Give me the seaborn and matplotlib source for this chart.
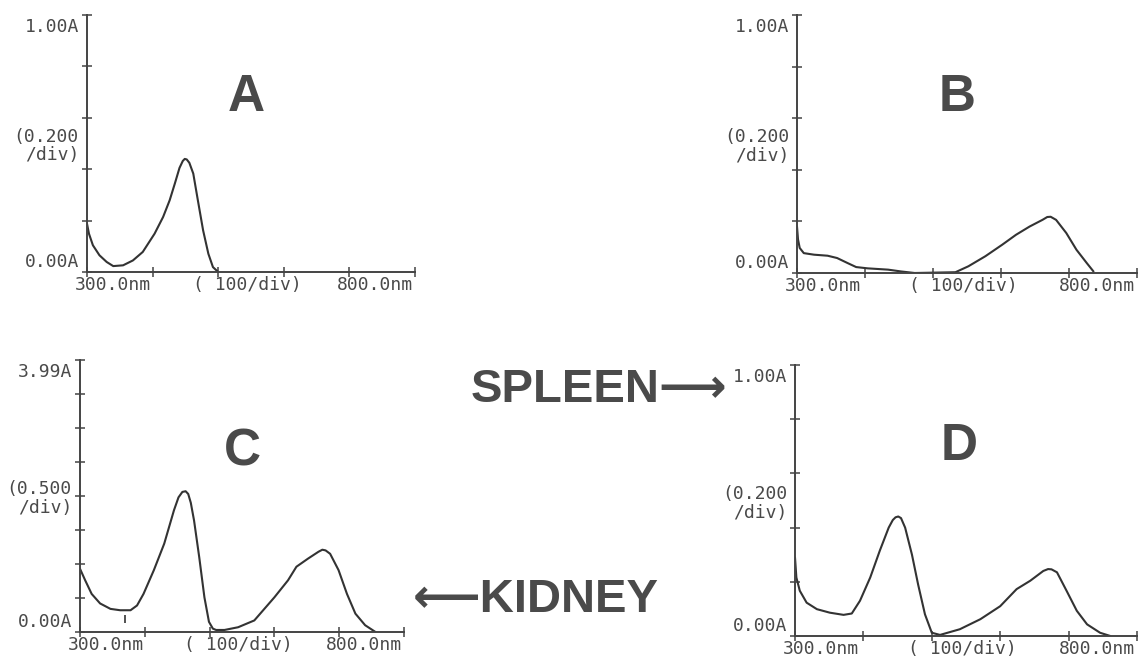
import numpy as np
import matplotlib
matplotlib.use("Agg")
import matplotlib.pyplot as plt
import seaborn as sns

# ---------------- data (wavelength nm, absorbance A) ----------------
a_nm  = [300, 303, 309, 319, 330, 340, 355, 370, 385, 403, 416, 426, 434, 441, 446, 449, 452, 456, 462, 469, 477, 485, 492, 500]
a_abs = [0.188, 0.149, 0.104, 0.065, 0.039, 0.023, 0.026, 0.045, 0.078, 0.149, 0.214, 0.279, 0.345, 0.405, 0.432, 0.44, 0.438, 0.425, 0.383, 0.279, 0.162, 0.071, 0.019, 0.0]

b_nm  = [300, 301.5, 304, 310, 325, 345, 359, 374, 387, 404, 434, 453, 473, 533, 552, 577, 602, 622, 642, 661, 668, 673, 681, 696, 711, 726, 736]
b_abs = [0.18, 0.13, 0.097, 0.077, 0.071, 0.067, 0.058, 0.039, 0.023, 0.018, 0.013, 0.006, 0.0, 0.003, 0.026, 0.065, 0.11, 0.148, 0.18, 0.206, 0.217, 0.218, 0.206, 0.155, 0.09, 0.039, 0.006]

c_nm  = [300, 308, 318, 331, 347, 362, 378, 388, 398, 414, 430, 445, 452, 458, 463, 467, 471, 476, 484, 492, 499, 505, 510, 523, 544, 569, 600, 621, 634, 652, 668, 674, 679, 686, 699, 712, 725, 740, 756]
c_abs = [0.93, 0.76, 0.56, 0.42, 0.34, 0.32, 0.32, 0.39, 0.56, 0.91, 1.30, 1.79, 1.98, 2.06, 2.07, 2.03, 1.90, 1.64, 1.10, 0.51, 0.15, 0.05, 0.03, 0.03, 0.07, 0.17, 0.51, 0.76, 0.96, 1.08, 1.18, 1.21, 1.20, 1.15, 0.91, 0.56, 0.27, 0.10, 0.0]
c_mark_nm  = [370]
c_mark_abs = [0.19]

d_nm  = [300, 302, 307, 317, 332, 351, 371, 383, 395, 410, 424, 437, 443, 447, 451, 455, 461, 471, 480, 490, 500, 512, 541, 571, 600, 624, 644, 663, 670, 675, 683, 697, 712, 727, 746, 761]
d_abs = [0.29, 0.216, 0.167, 0.123, 0.099, 0.086, 0.078, 0.083, 0.13, 0.216, 0.315, 0.40, 0.428, 0.438, 0.441, 0.435, 0.40, 0.30, 0.19, 0.08, 0.012, 0.004, 0.025, 0.062, 0.11, 0.173, 0.204, 0.24, 0.247, 0.246, 0.235, 0.167, 0.093, 0.043, 0.012, 0.0]

panel_letters = ["A", "B", "C", "D"]
top_labels    = ["1.00A", "1.00A", "3.99A", "1.00A"]
mid_labels    = ["(0.200\n/div)", "(0.200\n/div)", "(0.500\n/div)", "(0.200\n/div)"]
bottom_label  = "0.00A"
x_labels      = ["300.0nm", "( 100/div)", "800.0nm"]
y_max         = [1.0, 1.0, 3.99, 1.0]
y_step        = [0.2, 0.2, 0.5, 0.2]
side_labels   = ["SPLEEN\u27f6", "\u27f5KIDNEY"]

# ---------------- style ----------------
sns.set_theme(style="white")
plt.rcParams["font.family"] = ["DejaVu Sans Mono", "DejaVu Sans"]

W, H = 1140, 663
LINE = "#333333"
AX = "#444444"
TXT = "#4a4a4a"
FS = 13

fig = plt.figure(figsize=(W / 100, H / 100), dpi=100)
fig.patch.set_facecolor("white")

# pixel boxes (left, top, right, bottom)
boxes = [(87, 15, 415, 272), (797, 15, 1137, 273), (80, 360, 404, 632), (795, 365, 1137, 636)]
letter_pos = [(0.485, 0.68), (0.47, 0.68), (0.50, 0.66), (0.48, 0.70)]
series = [(a_nm, a_abs), (b_nm, b_abs), (c_nm, c_abs), (d_nm, d_abs)]


def ftxt(x, y, s, **kw):
    fig.text(x / W, 1 - y / H, s, **kw)


for i, (l, t, r, b) in enumerate(boxes):
    ax = fig.add_axes([l / W, 1 - b / H, (r - l) / W, (b - t) / H])
    nm, ab = series[i]
    sns.lineplot(x=nm, y=ab, ax=ax, color=LINE, linewidth=1.5)
    if i == 2:
        sns.scatterplot(x=c_mark_nm, y=c_mark_abs, ax=ax, marker="|", s=40,
                        color=LINE, linewidth=1.2)
    ax.set_xlim(300, 800)
    ax.set_ylim(0, y_max[i])
    ax.set_xticks(np.arange(300, 801, 100))
    ax.set_yticks(np.arange(0, y_max[i] + 0.02, y_step[i]))
    ax.set_xticklabels([])
    ax.set_yticklabels([])
    ax.tick_params(direction="inout", length=7, width=1.1, color=AX,
                   bottom=True, left=True)
    for side in ["top", "right"]:
        ax.spines[side].set_visible(False)
    for side in ["left", "bottom"]:
        ax.spines[side].set_color(AX)
        ax.spines[side].set_linewidth(1.4)
    ax.set_facecolor("none")
    ax.set_xlabel("")
    ax.set_ylabel("")
    ax.grid(False)

    # y labels
    ftxt(l - 8, t + 12, top_labels[i], ha="right", va="center", fontsize=FS, color=TXT)
    ftxt(l - 8, t + 0.51 * (b - t), mid_labels[i], ha="right", va="center",
         fontsize=FS, color=TXT, multialignment="right", linespacing=1.05)
    ftxt(l - 8, b - 10, bottom_label, ha="right", va="center", fontsize=FS, color=TXT)
    # x labels
    ftxt(l + 26, b + 13, x_labels[0], ha="center", va="center", fontsize=FS, color=TXT)
    ftxt(l + 0.49 * (r - l), b + 13, x_labels[1], ha="center", va="center", fontsize=FS, color=TXT)
    ftxt(r - 40, b + 13, x_labels[2], ha="center", va="center", fontsize=FS, color=TXT)

    # big panel letter
    ax.text(letter_pos[i][0], letter_pos[i][1], panel_letters[i], transform=ax.transAxes,
            ha="center", va="center", fontsize=37, fontweight="bold", color="#4a4a4a",
            family=["Liberation Sans", "DejaVu Sans"])

ftxt(599, 390, side_labels[0], ha="center", va="center", fontsize=34, fontweight="bold",
     color="#4a4a4a", family=["Liberation Sans", "DejaVu Sans"])
ftxt(536, 600, side_labels[1], ha="center", va="center", fontsize=34, fontweight="bold",
     color="#4a4a4a", family=["Liberation Sans", "DejaVu Sans"])

fig.savefig("out.png", dpi=100, facecolor="white")
